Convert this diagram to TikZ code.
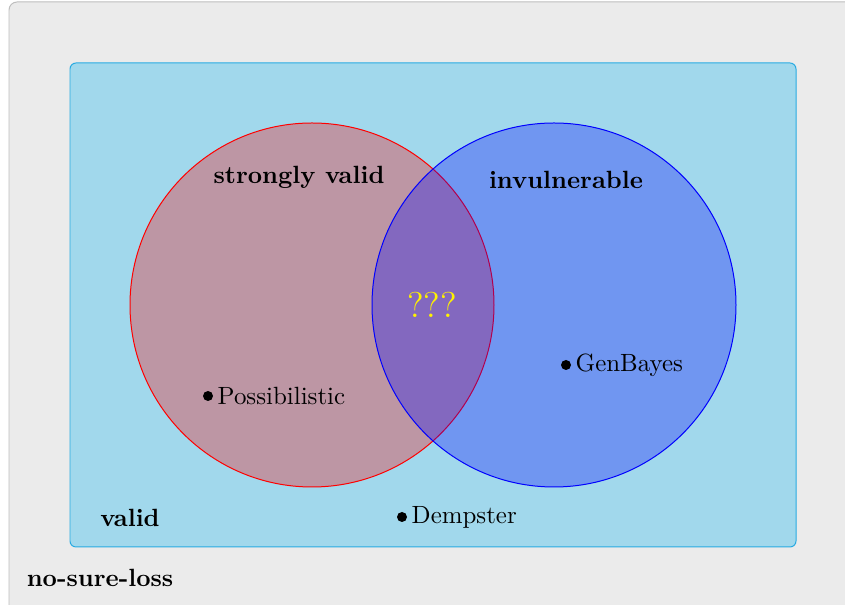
\documentclass[tikz,border=0pt]{standalone}
\usepackage{tikz}
\definecolor{outerfill}{RGB}{235,235,235}
\definecolor{outerline}{RGB}{190,190,190}
\definecolor{validfill}{RGB}{161,216,236}
\definecolor{validline}{RGB}{41,171,226}
\newlength{\px}
\setlength{\px}{0.0141cm}
\tikzset{
  setlabel/.style={font=\bfseries},
  member/.style={circle,fill=black,inner sep=0pt,minimum size=10\px},
  membername/.style={right,inner sep=1.5pt}
}
\begin{document}
\begin{tikzpicture}[x=0.0141cm,y=0.0141cm,line width=0.4pt]
          \useasboundingbox (0,0) rectangle (845,605);
          % outer set and the valid set
          \draw[fill=outerfill,draw=outerline,rounded corners=8\px] (9,-20) rectangle (880,603);
          \draw[fill=validfill,draw=validline,rounded corners=6\px] (70,58) rectangle (796,542);
          % the two circles
          \draw[red,fill=red,fill opacity=0.3,draw opacity=1] (312,300) circle (182);
          \draw[blue,fill=blue,fill opacity=0.3,draw opacity=1] (554,300) circle (182);
          \node[setlabel] (strong) at (299,428) {strongly valid};
          \node[setlabel] (invul) at (566,425) {invulnerable};
          \node[yellow,font=\Large] (unknown) at (432,300) {???};
          \node[setlabel] (valid) at (130,87) {valid};
          \node[setlabel] (nsl) at (100,27) {no-sure-loss};
          % the members
          \node[member] (poss) at (208,209) {};
          \node[membername] at (poss.east) {Possibilistic};
          \node[member] (genb) at (566,240) {};
          \node[membername] at (genb.east) {GenBayes};
          \node[member] (demp) at (402,88) {};
          \node[membername] at (demp.east) {Dempster};
\end{tikzpicture}
\end{document}
